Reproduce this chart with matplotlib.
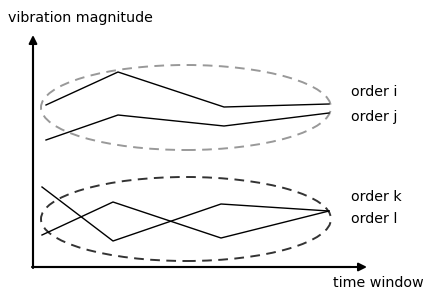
import matplotlib
matplotlib.use('Agg')
import matplotlib.pyplot as plt
from matplotlib.patches import Ellipse

# ── data (pixel-like units, origin bottom-left of the canvas) ──────────────
x_ij = [46, 118, 224, 329]
x_kl = [42, 113, 221, 329]
order_i = [184, 217, 182, 185]
order_j = [149, 174, 163, 176]
order_k = [102, 48, 85, 78]
order_l = [54, 87, 51, 78]

labels = ['order i', 'order j', 'order k', 'order l']
label_y = [197, 172, 92, 70]

fig = plt.figure(figsize=(4.23, 2.89), dpi=100)
ax = fig.add_axes([0, 0, 1, 1])
ax.set_xlim(0, 423)
ax.set_ylim(0, 289)
ax.axis('off')

# axes with arrows
ax.annotate('', xy=(33, 254), xytext=(33, 21),
            arrowprops=dict(arrowstyle='-|>', color='black', lw=1.5,
                            mutation_scale=12, shrinkA=0, shrinkB=0))
ax.annotate('', xy=(367, 22), xytext=(32, 22),
            arrowprops=dict(arrowstyle='-|>', color='black', lw=1.5,
                            mutation_scale=12, shrinkA=0, shrinkB=0))
ax.plot([33, 33], [22, 240], color='#666666', lw=1.5)
ax.plot([33, 350], [22, 22], color='#333333', lw=1.5)

# series
for xs, ys in [(x_ij, order_i), (x_ij, order_j), (x_kl, order_k), (x_kl, order_l)]:
    ax.plot(xs, ys, color='black', lw=1.0)

# groups
ax.add_patch(Ellipse((186, 181.5), 290, 85, fill=False, ls=(0, (5, 3.3)),
                     edgecolor='#999999', lw=1.4))
ax.add_patch(Ellipse((186, 70), 290, 84, fill=False, ls=(0, (5, 3.3)),
                     edgecolor='#333333', lw=1.4))

for lab, y in zip(labels, label_y):
    ax.text(351, y, lab, fontsize=10.3, va='center', ha='left')

ax.text(8, 271, 'vibration magnitude', fontsize=10.3, va='center', ha='left')
ax.text(333, 6, 'time window', fontsize=10.3, va='center', ha='left')

fig.savefig('out.png', dpi=100)
